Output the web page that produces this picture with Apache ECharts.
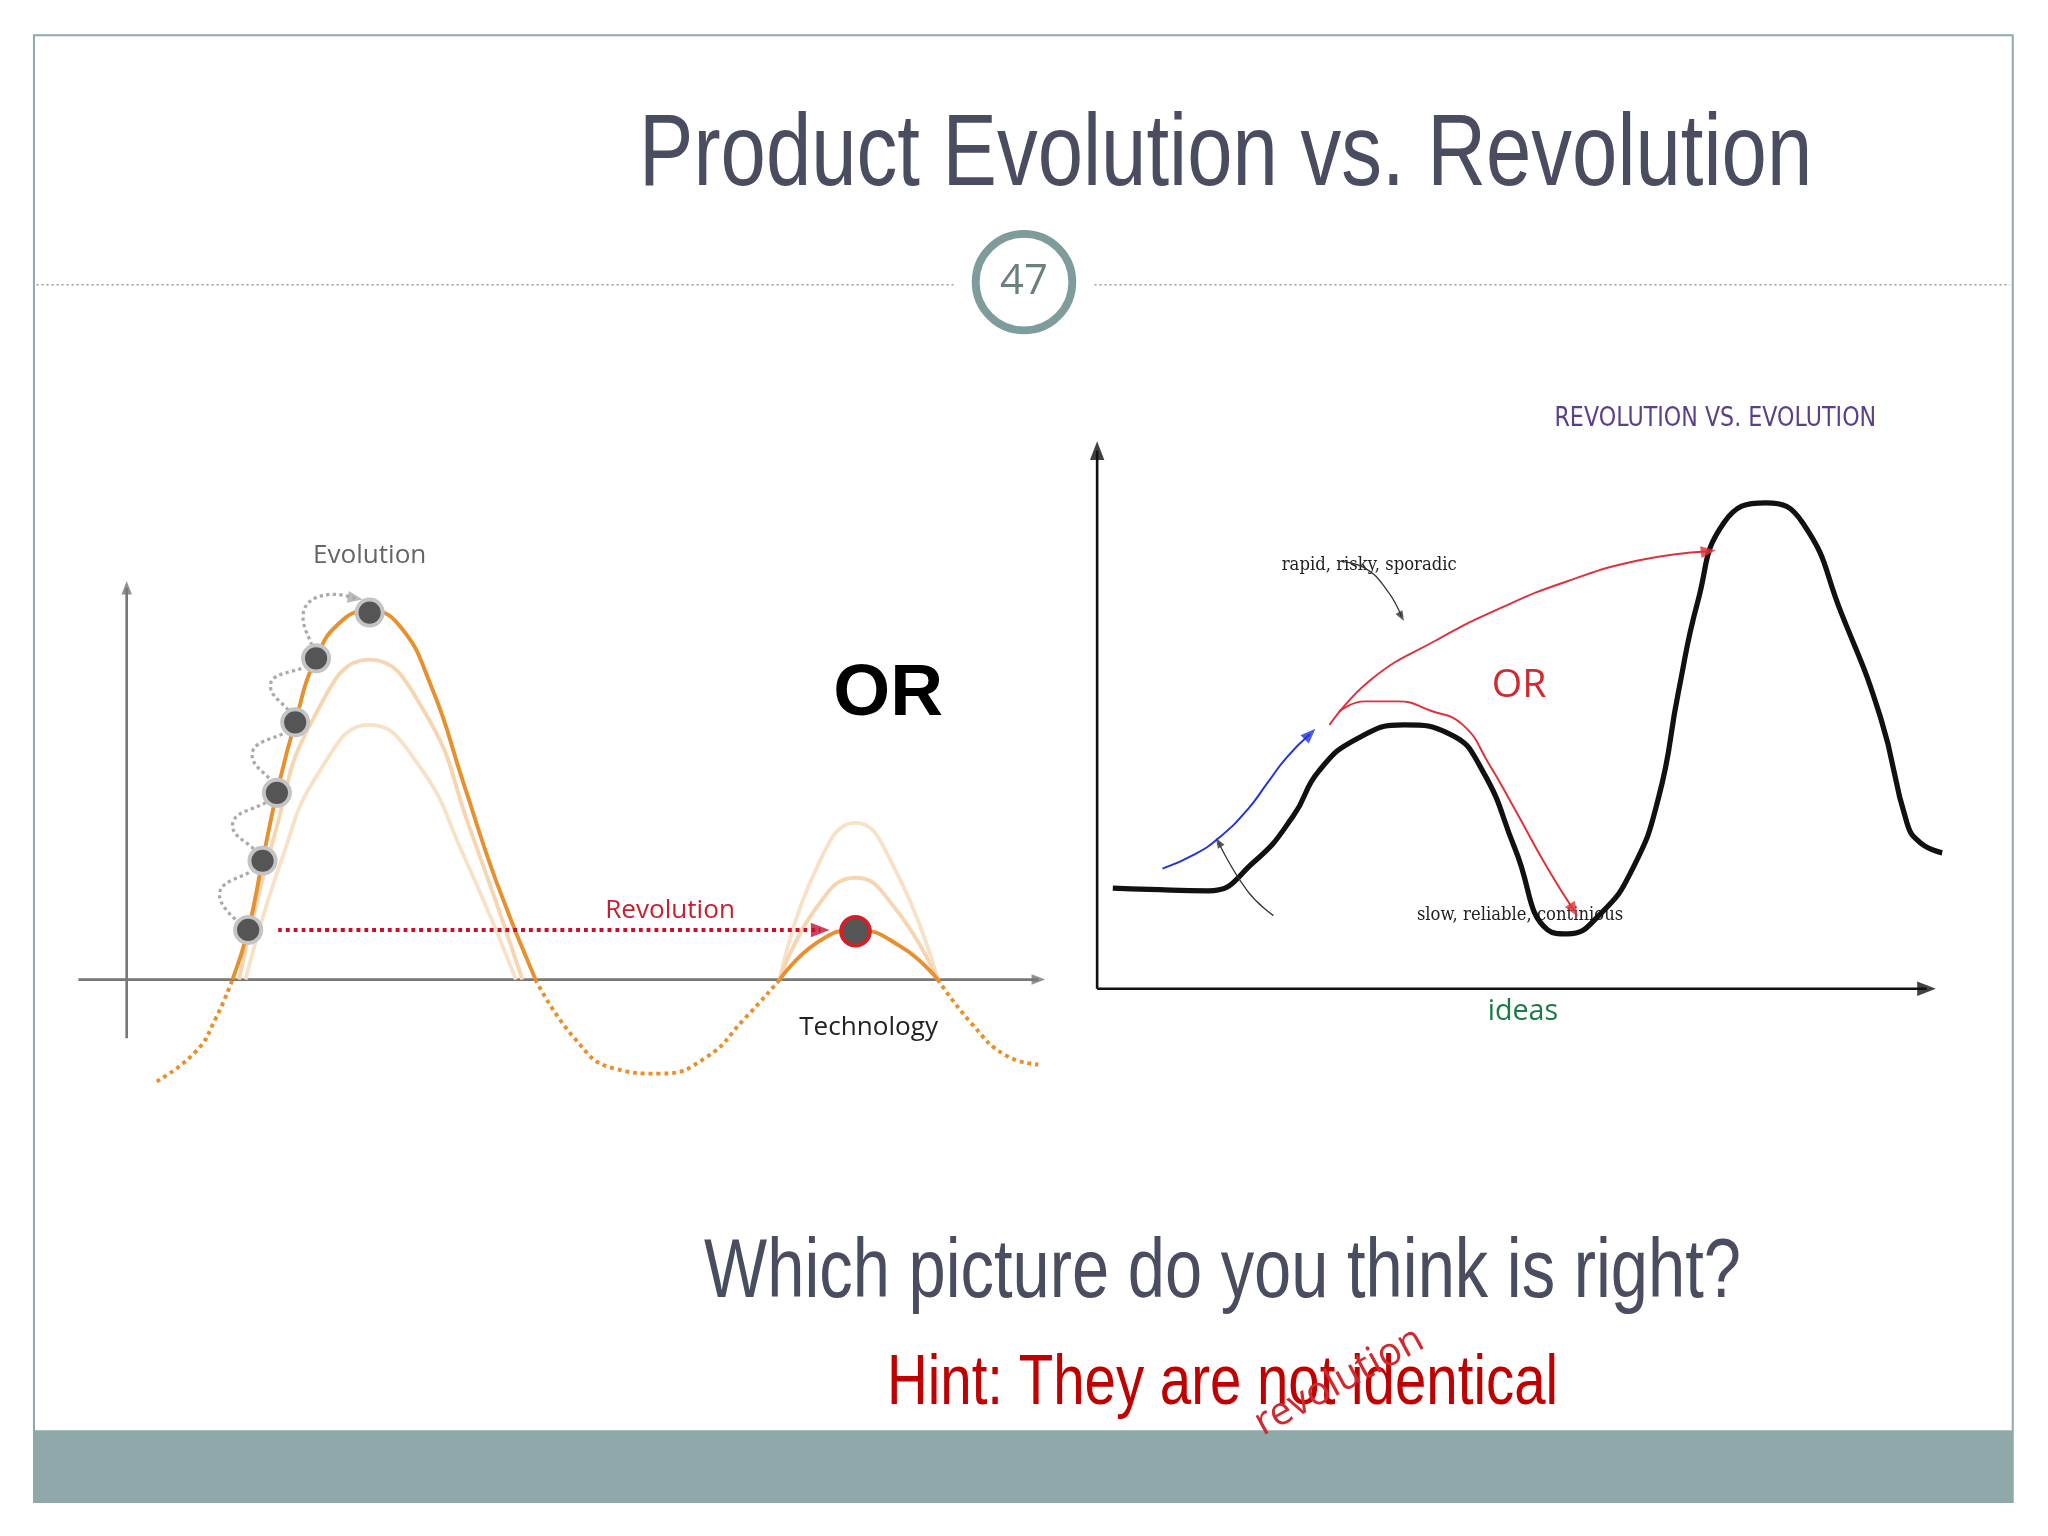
<!DOCTYPE html>
<html><head><meta charset="utf-8">
<script src="https://cdn.jsdelivr.net/npm/echarts@6/dist/echarts.min.js"></script>
<style>html,body{margin:0;padding:0;background:#fff}#c{width:2048px;height:1536px}</style>
</head><body><div id="c"></div>
<script>
// reference was read at 1568 px wide; everything below is in those units and scaled
const S = 2048 / 1568
const sans = '"Liberation Sans",Arial,sans-serif'

// left picture, x = slide px, y = height above the Technology axis
const evoMain = [[178,0],[190,38],[201,91],[212,143],[226,197],[242,246],[262,275],[283,282],[305,272],[330,225],[355,150],[380,75],[410,0]]
const evoFaint1 = [[183,0],[210,110],[240,200],[283,245],[325,205],[360,115],[400,0]]
const evoFaint2 = [[188,0],[215,90],[245,160],[283,195],[320,165],[355,95],[395,0]]
const dipDotted = [[410,0],[440,-45],[470,-68],[505,-72],[540,-60],[570,-30],[597,0]]
const leftDotted = [[120,-78],[150,-55],[165,-30],[178,0]]
const tailDotted = [[718,0],[745,-35],[770,-58],[795,-65]]
const revMain = [[597,0],[625,28],[655,38],[690,25],[718,0]]
const revFaint1 = [[597,0],[625,85],[655,120],[685,85],[718,0]]
const revFaint2 = [[597,0],[625,55],[655,78],[685,55],[718,0]]
const hopDots = [[190,38],[201,91],[212,143],[226,197],[242,246],[283,281]]
const hopPath = [[188,40],[168,65],[198,92],[178,118],[210,145],[193,172],[224,198],[207,225],[240,248],[232,278],[255,295],[272,292]]
const revDot = [[655,37]]
const revArrow = [[213,38],[628,38]]

// right picture, y = height above the ideas axis
const quality = [[852,77],[880,76],[925,75],[960,97],[990,132],[1010,167],[1040,192],[1075,202],[1110,195],[1135,167],[1160,107],[1185,45],[1200,42],[1225,57],[1250,92],[1270,147],[1285,227],[1300,297],[1320,357],[1352,372],[1380,357],[1410,287],[1440,207],[1460,127],[1470,112],[1487,104]]
const blueArrow = [[890,92],[915,103],[935,117],[955,137],[970,157],[985,177],[1003,195]]
const redRevArrow = [[1018,202],[1050,237],[1100,267],[1150,292],[1200,312],[1255,328],[1308,335]]
const redOrArrow = [[1025,212],[1045,220],[1070,220],[1095,213],[1120,202],[1140,172],[1160,137],[1185,92],[1205,60]]

const lineS = (data, color, w, type, xi) => ({
  type: 'line', xAxisIndex: xi, yAxisIndex: xi, data, smooth: true, showSymbol: false, silent: true,
  lineStyle: { color, width: w * S, type: type || 'solid' }
})
// arrow = smooth line + triangle head turned along the last segment (1 unit = S px on both axes)
const arrowS = (pts, color, w, type, xi, head) => {
  const a = pts[pts.length - 2], b = pts[pts.length - 1]
  const deg = Math.atan2(b[1] - a[1], b[0] - a[0]) * 180 / Math.PI - 90
  return [
    lineS(pts, color, w, type, xi),
    { type: 'scatter', xAxisIndex: xi, yAxisIndex: xi, data: [b], symbol: 'triangle',
      symbolSize: [(head || 10) * S, (head || 10) * 1.3 * S], symbolRotate: deg, silent: true, z: 4,
      itemStyle: { color } }
  ]
}
const txt = (x, y, text, size, color, extra, sx) => ({
  type: 'text', x: x * S, y: y * S, scaleX: sx || 1, originX: x * S, originY: y * S,
  style: Object.assign({ text, fontSize: size * S, fill: color, align: 'center', verticalAlign: 'middle', fontFamily: 'Open Sans, sans-serif' }, extra || {})
})

const chart = echarts.init(document.getElementById('c'))
chart.setOption({
  animation: false,
  grid: [
    { left: 60 * S, top: 440 * S, width: 740 * S, height: 400 * S },
    { left: 830 * S, top: 330 * S, width: 670 * S, height: 460 * S }
  ],
  xAxis: [
    { type: 'value', min: 60, max: 800, show: false, gridIndex: 0 },
    { type: 'value', min: 830, max: 1500, show: false, gridIndex: 1 }
  ],
  yAxis: [
    { type: 'value', min: -90, max: 310, show: false, gridIndex: 0 },
    { type: 'value', min: -33, max: 427, show: false, gridIndex: 1 }
  ],
  series: [
    ...arrowS([[60,0],[795,0]], '#777', 2, 'solid', 0, 8),
    ...arrowS([[97,-45],[97,300]], '#777', 2, 'solid', 0, 8),
    lineS(evoFaint2, '#f7e2c8', 3, 'solid', 0),
    lineS(evoFaint1, '#f5d6b0', 3, 'solid', 0),
    lineS(revFaint1, '#f7e2c8', 3, 'solid', 0),
    lineS(revFaint2, '#f5d6b0', 3, 'solid', 0),
    lineS(evoMain, '#e8902e', 3, 'solid', 0),
    lineS(revMain, '#e8902e', 3, 'solid', 0),
    lineS(dipDotted, '#e8902e', 3, 'dotted', 0),
    lineS(leftDotted, '#e8902e', 3, 'dotted', 0),
    lineS(tailDotted, '#e8902e', 3, 'dotted', 0),
    ...arrowS(hopPath, '#aaa', 2.5, 'dotted', 0, 9),
    ...arrowS(revArrow, '#c8102e', 3, 'dotted', 0, 11),
    { type: 'scatter', xAxisIndex: 0, yAxisIndex: 0, data: hopDots, symbolSize: 20 * S, z: 5,
      itemStyle: { color: '#555', borderColor: '#c4c4c4', borderWidth: 3 * S, opacity: 1 } },
    { type: 'scatter', xAxisIndex: 0, yAxisIndex: 0, data: revDot, symbolSize: 22 * S, z: 5,
      itemStyle: { color: '#555', borderColor: '#d0202a', borderWidth: 3 * S, opacity: 1 } },

    ...arrowS([[840,0],[1475,0]], '#111', 2, 'solid', 1, 11),
    ...arrowS([[840,0],[840,412]], '#111', 2, 'solid', 1, 11),
    lineS(quality, '#111', 4, 'solid', 1),
    ...arrowS(blueArrow, '#2233dd', 1.5, 'solid', 1, 9),
    ...arrowS(redRevArrow, '#e0303a', 1.5, 'solid', 1, 9),
    ...arrowS(redOrArrow, '#e0303a', 1.5, 'solid', 1, 9),
    ...arrowS([[1027,327],[1045,322],[1062,305],[1073,285]], '#333', 1, 'solid', 1, 6),
    ...arrowS([[975,56],[955,75],[933,112]], '#333', 1, 'solid', 1, 6)
  ],
  graphic: [
    { type: 'rect', shape: { x: 26 * S, y: 1095 * S, width: 1515 * S, height: 55 * S }, style: { fill: '#8fa9aa' } },
    { type: 'rect', shape: { x: 26 * S, y: 27 * S, width: 1515 * S, height: 1123 * S }, style: { fill: 'none', stroke: '#8fa9aa', lineWidth: 2 } },
    { type: 'line', shape: { x1: 28 * S, y1: 218 * S, x2: 730 * S, y2: 218 * S }, style: { stroke: '#999', lineWidth: 1.5, lineDash: [2, 3] } },
    { type: 'line', shape: { x1: 838 * S, y1: 218 * S, x2: 1539 * S, y2: 218 * S }, style: { stroke: '#999', lineWidth: 1.5, lineDash: [2, 3] } },
    { type: 'circle', shape: { cx: 784 * S, cy: 216 * S, r: 37 * S }, style: { fill: '#fff', stroke: '#7e9c9c', lineWidth: 6 * S } },
    txt(784, 216, '47', 32, '#6b7f80'),
    txt(782, 120, 'Product Evolution vs. Revolution', 78, '#4a4d60', { fontFamily: sans }, 0.8),
    txt(780, 975, 'Which picture do you think is right?', 64, '#4a4d60', { fontFamily: sans }, 0.8),
    txt(780, 1060, 'Hint: They are not identical', 54, '#c00000', { fontFamily: sans }, 0.8),

    Object.assign(txt(82, 500, 'Time', 19, '#333', { fontWeight: 'bold' }), { rotation: Math.PI / 2 }),
    txt(283, 425, 'Evolution', 20, '#666'),
    txt(513, 697, 'Revolution', 20, '#c8202e'),
    txt(665, 787, 'Technology', 20, '#222'),
    txt(680, 532, 'OR', 56, '#000', { fontWeight: 'bold', fontFamily: sans }),

    txt(1142, 321, 'REVOLUTION VS. EVOLUTION', 20, '#5a3f8a', { fontFamily: 'DejaVu Sans, sans-serif' }, 0.85),
    Object.assign(txt(820, 565, 'quality', 20, '#1c7a4a'), { rotation: Math.PI / 2 }),
    txt(1166, 775, 'ideas', 22, '#1c7a4a'),
    txt(953, 433, 'rapid, risky, sporadic', 14, '#222', { fontFamily: 'DejaVu Serif, serif' }, 0.9),
    txt(1058, 701, 'slow, reliable, continious', 14, '#222', { fontFamily: 'DejaVu Serif, serif' }, 0.9),
    Object.assign(txt(935, 600, 'evolution', 28, '#2aa8d8'), { rotation: Math.PI / 4 }),
    Object.assign(txt(1113, 467, 'revolution', 30, '#d02a30'), { rotation: 0.5 }),
    txt(1163, 525, 'OR', 30, '#d02a30')
  ]
})
</script></body></html>
